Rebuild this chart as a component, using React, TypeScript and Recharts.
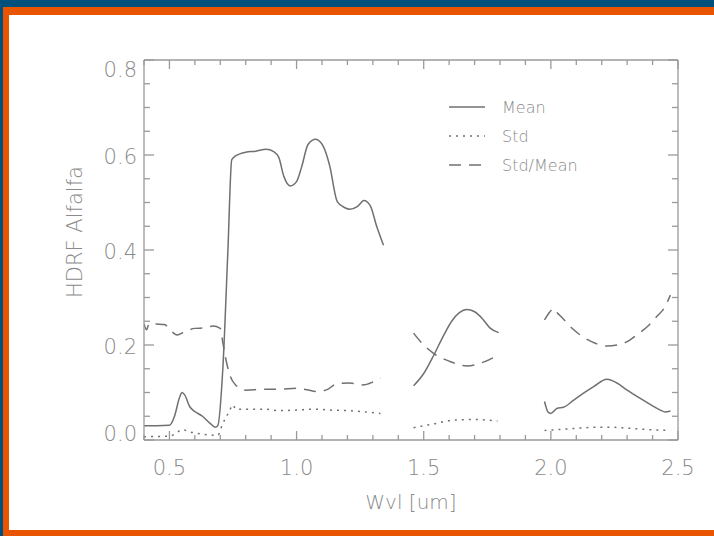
import { LineChart, Line, XAxis, YAxis } from "recharts";

// wavelength (um) / value pairs, null = gap between spectral windows
const meanWvl = [0.4, 0.45, 0.5, 0.52, 0.54, 0.55, 0.56, 0.58, 0.6, 0.63, 0.66, 0.68, 0.69, 0.71, 0.73, 0.745, 0.76, 0.8, 0.84, 0.88, 0.91, 0.93, 0.95, 0.975, 1.0, 1.02, 1.045, 1.075, 1.105, 1.13, 1.16, 1.19, 1.21, 1.24, 1.265, 1.29, 1.315, 1.342, 1.4, 1.46, 1.5, 1.54, 1.58, 1.61, 1.64, 1.67, 1.7, 1.73, 1.76, 1.795, 1.88, 1.975, 1.99, 2.0, 2.025, 2.05, 2.09, 2.13, 2.17, 2.22, 2.26, 2.3, 2.35, 2.4, 2.43, 2.45, 2.47];
const meanVal = [0.03, 0.03, 0.031, 0.05, 0.09, 0.1, 0.095, 0.07, 0.06, 0.05, 0.035, 0.027, 0.03, 0.15, 0.4, 0.59, 0.598, 0.606, 0.608, 0.612, 0.607, 0.595, 0.555, 0.535, 0.544, 0.575, 0.622, 0.633, 0.618, 0.578, 0.502, 0.489, 0.486, 0.492, 0.504, 0.493, 0.45, 0.41, null, 0.114, 0.14, 0.179, 0.222, 0.25, 0.268, 0.275, 0.27, 0.256, 0.236, 0.226, null, 0.081, 0.058, 0.056, 0.067, 0.069, 0.084, 0.099, 0.113, 0.128, 0.12, 0.105, 0.088, 0.072, 0.063, 0.059, 0.061];

const stdWvl = [0.4, 0.5, 0.53, 0.55, 0.58, 0.61, 0.65, 0.69, 0.71, 0.735, 0.75, 0.76, 0.8, 0.87, 0.93, 1.0, 1.07, 1.13, 1.2, 1.27, 1.33, 1.4, 1.46, 1.54, 1.62, 1.7, 1.79, 1.88, 1.975, 2.06, 2.14, 2.22, 2.3, 2.38, 2.47];
const stdVal = [0.007, 0.008, 0.016, 0.022, 0.017, 0.014, 0.011, 0.01, 0.035, 0.06, 0.074, 0.065, 0.065, 0.065, 0.062, 0.063, 0.065, 0.063, 0.062, 0.059, 0.056, null, 0.026, 0.034, 0.042, 0.043, 0.04, null, 0.02, 0.023, 0.026, 0.027, 0.025, 0.022, 0.02];

const ratioWvl = [0.4, 0.41, 0.42, 0.45, 0.48, 0.51, 0.53, 0.56, 0.6, 0.64, 0.67, 0.7, 0.71, 0.72, 0.74, 0.76, 0.8, 0.87, 0.93, 1.0, 1.04, 1.08, 1.12, 1.16, 1.21, 1.26, 1.3, 1.33, 1.4, 1.46, 1.5, 1.54, 1.6, 1.67, 1.74, 1.78, 1.88, 1.975, 1.992, 2.005, 2.012, 2.025, 2.04, 2.09, 2.16, 2.22, 2.26, 2.3, 2.34, 2.38, 2.42, 2.445, 2.47];
const ratioVal = [0.245, 0.232, 0.245, 0.244, 0.243, 0.228, 0.221, 0.228, 0.235, 0.236, 0.24, 0.235, 0.205, 0.175, 0.133, 0.116, 0.105, 0.107, 0.107, 0.109, 0.106, 0.102, 0.106, 0.119, 0.12, 0.116, 0.122, 0.13, null, 0.225, 0.2, 0.182, 0.166, 0.156, 0.165, 0.175, null, 0.253, 0.267, 0.275, 0.277, 0.268, 0.26, 0.232, 0.207, 0.198, 0.2, 0.207, 0.222, 0.239, 0.262, 0.277, 0.305];

const xTicks = [0.4, 0.5, 0.6, 0.7, 0.8, 0.9, 1.0, 1.1, 1.2, 1.3, 1.4, 1.5, 1.6, 1.7, 1.8, 1.9, 2.0, 2.1, 2.2, 2.3, 2.4, 2.5];
const yTicks = [0, 0.05, 0.1, 0.15, 0.2, 0.25, 0.3, 0.35, 0.4, 0.45, 0.5, 0.55, 0.6, 0.65, 0.7, 0.75, 0.8];

const toRows = (xs: number[], ys: (number | null)[]) => xs.map((x, i) => ({ x, y: ys[i] }));
const meanData = toRows(meanWvl, meanVal);
const stdData = toRows(stdWvl, stdVal);
const ratioData = toRows(ratioWvl, ratioVal);

const INK = "#707070";
const AXIS = "#9a9a9a";
const TEXT = "#8a8a8a";
const FONT = "'DejaVu Sans', sans-serif";

const isMajorX = (v: number) => Math.abs(v * 2 - Math.round(v * 2)) < 1e-6;
const isMajorY = (v: number) => Math.abs(v * 5 - Math.round(v * 5)) < 1e-6;

function BottomTick({ x, y, payload }: any) {
  const v = payload.value;
  const major = isMajorX(v);
  return (
    <g>
      <line x1={x} y1={y} x2={x} y2={y - (major ? 9 : 5)} stroke={AXIS} strokeWidth={1.3} />
      {major && (
        <text x={x} y={y + 28} textAnchor="middle" dominantBaseline="central" fill={TEXT} fontSize={21} fontFamily={FONT} fontWeight={300}>
          {v.toFixed(1)}
        </text>
      )}
    </g>
  );
}

function TopTick({ x, y, payload }: any) {
  const major = isMajorX(payload.value);
  return <line x1={x} y1={y} x2={x} y2={y + (major ? 9 : 5)} stroke={AXIS} strokeWidth={1.3} />;
}

function LeftTick({ x, y, payload }: any) {
  const v = payload.value;
  const major = isMajorY(v);
  // end labels sit inside the frame like the original plot
  const shift = v >= 0.79 ? 10 : v <= 0.001 ? -6 : 2;
  return (
    <g>
      <line x1={x} y1={y} x2={x + (major ? 10 : 6)} y2={y} stroke={AXIS} strokeWidth={1.3} />
      {major && (
        <text x={x - 7} y={y + shift} textAnchor="end" dominantBaseline="central" fill={TEXT} fontSize={21} fontFamily={FONT} fontWeight={300}>
          {v.toFixed(1)}
        </text>
      )}
    </g>
  );
}

function RightTick({ x, y, payload }: any) {
  const major = isMajorY(payload.value);
  return <line x1={x} y1={y} x2={x - (major ? 10 : 6)} y2={y} stroke={AXIS} strokeWidth={1.3} />;
}

const legendItems = [
  { name: "Mean", dash: undefined },
  { name: "Std", dash: "2 5" },
  { name: "Std/Mean", dash: "12 8" },
];

function LegendBox() {
  return (
    <svg width={200} height={90} style={{ position: "absolute", left: 449, top: 94 }}>
      {legendItems.map((it, i) => (
        <g key={it.name}>
          <line x1={0} x2={36} y1={13 + i * 29} y2={13 + i * 29} stroke={INK} strokeWidth={1.5} strokeDasharray={it.dash} />
          <text x={53} y={13 + i * 29} dominantBaseline="central" fill={TEXT} fontSize={16} fontFamily={FONT} fontWeight={300}>
            {it.name}
          </text>
        </g>
      ))}
    </svg>
  );
}

export default function App() {
  return (
    <div style={{ position: "absolute", left: 0, top: 0, width: 714, height: 536, background: "#ffffff", overflow: "hidden" }}>
      <div style={{ position: "absolute", left: 0, top: 0, width: 714, height: 7, background: "#00507e" }} />
      <div style={{ position: "absolute", left: 0, top: 0, width: 3, height: 536, background: "#00507e" }} />
      <div style={{ position: "absolute", left: 3, top: 7, width: 711, height: 8, background: "#e85400" }} />
      <div style={{ position: "absolute", left: 3, top: 7, width: 6, height: 529, background: "#e85400" }} />
      <div style={{ position: "absolute", left: 3, top: 530, width: 711, height: 6, background: "#e85400" }} />
      <div style={{ position: "absolute", left: 0, top: 0 }}>
        <LineChart width={714} height={530} margin={{ top: 59, right: 35, bottom: 0, left: 0 }}>
          <XAxis
            xAxisId="b"
            type="number"
            dataKey="x"
            domain={[0.4, 2.5]}
            ticks={xTicks}
            interval={0}
            allowDataOverflow
            height={90}
            stroke={AXIS}
            strokeWidth={1.3}
            tickLine={false}
            tickSize={0}
            tickMargin={0}
            tick={<BottomTick />}
            label={({ viewBox }: any) => (
              <text x={viewBox.x + viewBox.width / 2} y={viewBox.y + 62} textAnchor="middle" dominantBaseline="central" fill={TEXT} fontSize={20} fontFamily={FONT} fontWeight={300}>
                Wvl [um]
              </text>
            )}
          />
          <XAxis
            xAxisId="t"
            orientation="top"
            type="number"
            dataKey="x"
            domain={[0.4, 2.5]}
            ticks={xTicks}
            interval={0}
            allowDataOverflow
            height={1}
            stroke={AXIS}
            strokeWidth={1.3}
            tickLine={false}
            tickSize={0}
            tickMargin={0}
            tick={<TopTick />}
          />
          <YAxis
            yAxisId="l"
            type="number"
            domain={[0, 0.8]}
            ticks={yTicks}
            interval={0}
            allowDataOverflow
            width={144}
            stroke={AXIS}
            strokeWidth={1.3}
            tickLine={false}
            tickSize={0}
            tickMargin={0}
            tick={<LeftTick />}
            label={({ viewBox }: any) => {
              const cx = 75;
              const cy = viewBox.y + viewBox.height / 2 - 18;
              return (
                <text x={cx} y={cy} transform={`rotate(-90 ${cx} ${cy})`} textAnchor="middle" dominantBaseline="central" fill={TEXT} fontSize={21} fontFamily={FONT} fontWeight={300}>
                  HDRF Alfalfa
                </text>
              );
            }}
          />
          <YAxis
            yAxisId="r"
            orientation="right"
            type="number"
            domain={[0, 0.8]}
            ticks={yTicks}
            interval={0}
            allowDataOverflow
            width={1}
            stroke={AXIS}
            strokeWidth={1.3}
            tickLine={false}
            tickSize={0}
            tickMargin={0}
            tick={<RightTick />}
          />
          <Line xAxisId="b" yAxisId="l" data={meanData} dataKey="y" name="Mean" type="monotone" stroke={INK} strokeWidth={1.5} dot={false} connectNulls={false} isAnimationActive={false} />
          <Line xAxisId="b" yAxisId="l" data={stdData} dataKey="y" name="Std" type="monotone" stroke={INK} strokeWidth={1.5} strokeDasharray="2 5" dot={false} connectNulls={false} isAnimationActive={false} />
          <Line xAxisId="b" yAxisId="l" data={ratioData} dataKey="y" name="Std/Mean" type="monotone" stroke={INK} strokeWidth={1.5} strokeDasharray="12 8" dot={false} connectNulls={false} isAnimationActive={false} />
        </LineChart>
      </div>
      <LegendBox />
    </div>
  );
}
